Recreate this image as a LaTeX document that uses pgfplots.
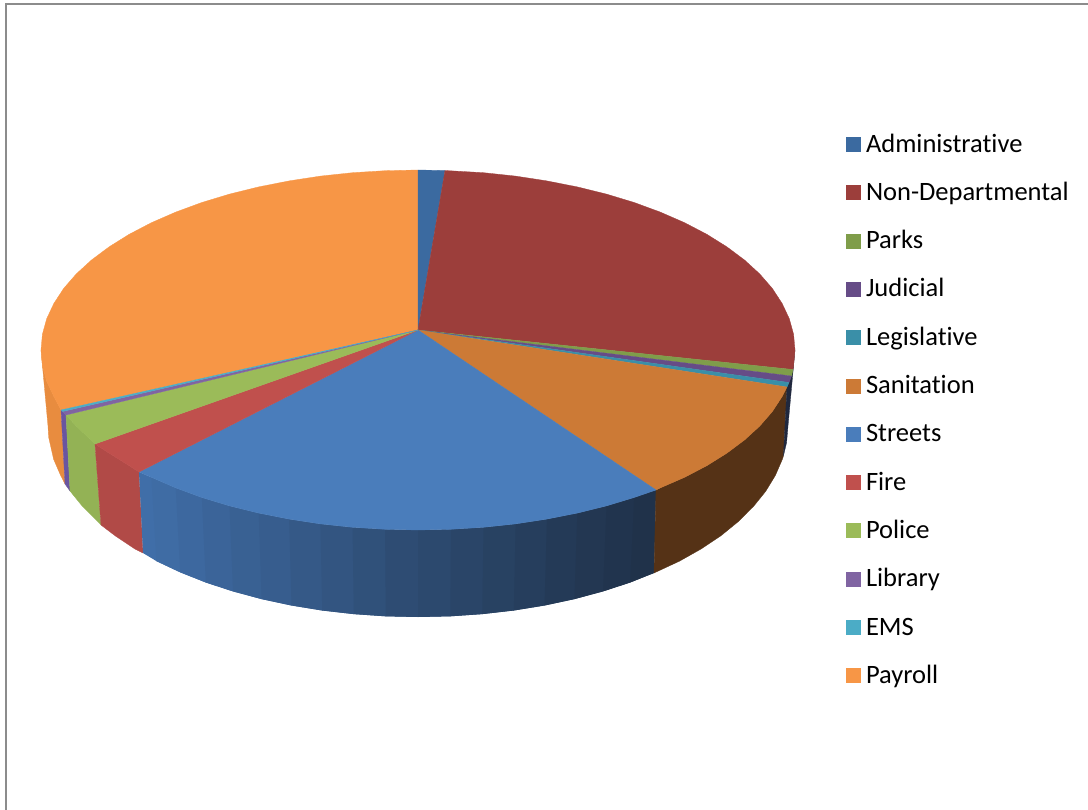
\documentclass[border=0pt]{standalone}
\usepackage{pgfplots}
\pgfplotsset{compat=1.18}
\usepackage{fontspec}
\setmainfont[Ligatures=NoCommon]{Carlito}

\definecolor{admin}{HTML}{3B6AA0}
\definecolor{nondep}{HTML}{9C3E3B}
\definecolor{parks}{HTML}{7F9D4A}
\definecolor{judicial}{HTML}{664C87}
\definecolor{legis}{HTML}{3A8FA8}
\definecolor{sanit}{HTML}{CC7A36}
\definecolor{streets}{HTML}{4A7DBB}
\definecolor{fire}{HTML}{C0504D}
\definecolor{police}{HTML}{9BBB59}
\definecolor{library}{HTML}{8064A2}
\definecolor{ems}{HTML}{4BACC6}
\definecolor{payroll}{HTML}{F79646}
\definecolor{stL}{RGB}{64,110,168}
\definecolor{stR}{RGB}{32,50,74}
\definecolor{payrollside}{RGB}{232,140,63}
\definecolor{libside}{RGB}{105,85,160}
\definecolor{sanitside}{RGB}{85,50,22}
\definecolor{darkside}{RGB}{32,40,62}

\pgfplotsset{
  face/.style={fill=#1,draw=#1,line width=0.3pt,forget plot},
  band/.style={fill=#1,draw=none,forget plot},
  key/.style={legend image code/.code={\fill[##1,draw=none] (0pt,0pt) rectangle (15pt,15pt);}},
}

\begin{document}
\begin{tikzpicture}
\path[use as bounding box] (0,0) rectangle (1088pt,810pt);
\begin{axis}[
    scale only axis,
    width=1088pt, height=810pt,
    xmin=0, xmax=1088,
    ymin=0, ymax=810,
    y dir=reverse,
    hide axis,
    clip=false,
    key,
    legend style={
      at={(axis cs:846,133)}, anchor=north west,
      draw=none, fill=none, inner sep=0pt, outer sep=0pt,
      font=\fontsize{26.5}{26.5}\selectfont,
      row sep=25.8pt, column sep=3pt,
      cells={anchor=base west, text height=17pt, text depth=6pt, inner sep=0pt},
    },
]
% outer frame
\addplot[color=black!45, line width=2pt, forget plot] coordinates {(5.5,810)(5.5,4.5)(1088,4.5)};

% side walls
\addplot[face=payrollside] coordinates {
  (41,350)(42.4,365.7)(46.7,381.3)(53.9,396.6)(61,410)(65,484)(60.6,475.4)(53.6,459.2)(48.6,437)(48,426)} -- cycle;
\addplot[face=libside] coordinates {(61,410)(66,415)(70,491)(65,484)} -- cycle;
\addplot[face=police!95!black] coordinates {
  (66,415)(76.3,426.1)(95,444)(101,525)(82.7,506.7)(70,491)} -- cycle;
\addplot[face=fire!92!black] coordinates {
  (95,444)(109.2,453.2)(129.2,465.7)(139,472)(143,553)(134.6,548.8)(114.9,535.6)(101,525)} -- cycle;
% streets wall, in bands from light to dark; each band runs on under the next
\addplot[band=stL!100!stR] coordinates {(139,472)(151.4,477.3)(175.7,487.9)(180.2,572.3)(156.4,561.1)(143,553)} -- cycle;
\addplot[band=stL!96!stR] coordinates {(151.4,477.3)(175.7,487.9)(201.8,497.5)(205.8,582.5)(180.2,572.3)(156.4,561.1)} -- cycle;
\addplot[band=stL!90!stR] coordinates {(175.7,487.9)(201.8,497.5)(229.5,505.9)(233,591.4)(205.8,582.5)(180.2,572.3)} -- cycle;
\addplot[band=stL!84!stR] coordinates {(201.8,497.5)(229.5,505.9)(258.7,513.1)(261.6,599.1)(233,591.4)(205.8,582.5)} -- cycle;
\addplot[band=stL!78!stR] coordinates {(229.5,505.9)(258.7,513.1)(289.1,519.1)(291.5,605.5)(261.6,599.1)(233,591.4)} -- cycle;
\addplot[band=stL!72!stR] coordinates {(258.7,513.1)(289.1,519.1)(320.4,523.9)(322.2,610.5)(291.5,605.5)(261.6,599.1)} -- cycle;
\addplot[band=stL!65!stR] coordinates {(289.1,519.1)(320.4,523.9)(352.5,527.3)(353.8,614.1)(322.2,610.5)(291.5,605.5)} -- cycle;
\addplot[band=stL!58!stR] coordinates {(320.4,523.9)(352.5,527.3)(385.1,529.3)(385.7,616.3)(353.8,614.1)(322.2,610.5)} -- cycle;
\addplot[band=stL!51!stR] coordinates {(352.5,527.3)(385.1,529.3)(418,530)(418,617)(385.7,616.3)(353.8,614.1)} -- cycle;
\addplot[band=stL!44!stR] coordinates {(385.1,529.3)(418,530)(450.9,529.3)(450.3,616.3)(418,617)(385.7,616.3)} -- cycle;
\addplot[band=stL!38!stR] coordinates {(418,530)(450.9,529.3)(483.5,527.3)(482.2,614.1)(450.3,616.3)(418,617)} -- cycle;
\addplot[band=stL!32!stR] coordinates {(450.9,529.3)(483.5,527.3)(515.6,523.9)(513.8,610.5)(482.2,614.1)(450.3,616.3)} -- cycle;
\addplot[band=stL!26!stR] coordinates {(483.5,527.3)(515.6,523.9)(546.9,519.1)(544.5,605.5)(513.8,610.5)(482.2,614.1)} -- cycle;
\addplot[band=stL!20!stR] coordinates {(515.6,523.9)(546.9,519.1)(577.3,513.1)(574.4,599.1)(544.5,605.5)(513.8,610.5)} -- cycle;
\addplot[band=stL!14!stR] coordinates {(546.9,519.1)(577.3,513.1)(606.5,505.9)(603,591.4)(574.4,599.1)(544.5,605.5)} -- cycle;
\addplot[band=stL!8!stR] coordinates {(577.3,513.1)(606.5,505.9)(634.2,497.5)(630.2,582.5)(603,591.4)(574.4,599.1)} -- cycle;
\addplot[band=stL!4!stR] coordinates {(606.5,505.9)(634.2,497.5)(656,490)(654,573)(630.2,582.5)(603,591.4)} -- cycle;
\addplot[band=stR] coordinates {(634.2,497.5)(656,490)(654,573)(630.2,582.5)} -- cycle;
% sanitation wall
\addplot[face=sanitside] coordinates {
  (787,387)(782.1,396.6)(772.3,411.6)(759.7,426.1)(744.5,440)(726.8,453.2)(706.8,465.7)(684.6,477.3)(660.3,487.9)(656,490)
  (654,573)(679.6,561.1)(701.4,548.8)(721.1,535.6)(738.4,521.5)(753.3,506.7)(765.7,491.3)(775.4,475.4)(782.4,459.2)(783.4,456)} -- cycle;
% dark sliver at the right
\addplot[face=darkside] coordinates {
  (787,387)(789,382.5)(791.5,376)(793,369.5)(795,350)(788,426)(786.6,442.6)(783.4,456)} -- cycle;

% top faces
\addplot[face=payroll] coordinates {
  (418,330)(61,410)(53.9,396.6)(46.7,381.3)(42.4,365.7)(41,350)(42.4,334.3)(46.7,318.7)(53.9,303.4)(63.7,288.4)(76.3,273.9)(91.5,260)
  (109.2,246.8)(129.2,234.3)(151.4,222.7)(175.7,212.1)(201.8,202.5)(229.5,194.1)(258.7,186.9)(289.1,180.9)(320.4,176.1)(352.5,172.7)(385.1,170.7)(418,170)} -- cycle;
\addplot[face=admin] coordinates {(418,330)(418,170)(445,170.5)} -- cycle;
\addplot[face=nondep] coordinates {
  (418,330)(445,170.5)(483.5,172.7)(515.6,176.1)(546.9,180.9)(577.3,186.9)(606.5,194.1)(634.2,202.5)(660.3,212.1)(684.6,222.7)(706.8,234.3)
  (726.8,246.8)(744.5,260)(759.7,273.9)(772.3,288.4)(782.1,303.4)(789.3,318.7)(793.6,334.3)(795,350)(793.6,365.7)(793,369.5)} -- cycle;
\addplot[face=parks] coordinates {(418,330)(793,369.5)(791.5,376)} -- cycle;
\addplot[face=judicial] coordinates {(418,330)(791.5,376)(789,382.5)} -- cycle;
\addplot[face=legis] coordinates {(418,330)(789,382.5)(787,387)} -- cycle;
\addplot[face=sanit] coordinates {
  (418,330)(787,387)(782.1,396.6)(772.3,411.6)(759.7,426.1)(744.5,440)(726.8,453.2)(706.8,465.7)(684.6,477.3)(660.3,487.9)(656,490)} -- cycle;
\addplot[face=streets] coordinates {
  (418,330)(656,490)(634.2,497.5)(606.5,505.9)(577.3,513.1)(546.9,519.1)(515.6,523.9)(483.5,527.3)(450.9,529.3)(418,530)(385.1,529.3)
  (352.5,527.3)(320.4,523.9)(289.1,519.1)(258.7,513.1)(229.5,505.9)(201.8,497.5)(175.7,487.9)(151.4,477.3)(139,472)} -- cycle;
\addplot[face=fire] coordinates {(418,330)(139,472)(129.2,465.7)(109.2,453.2)(95,444)} -- cycle;
\addplot[face=police] coordinates {(418,330)(95,444)(76.3,426.1)(66,415)} -- cycle;
\addplot[face=library] coordinates {(418,330)(66,415)(62.5,411.5)} -- cycle;
\addplot[face=ems] coordinates {(418,330)(62.5,411.5)(61,410)} -- cycle;

\addlegendimage{fill=admin}\addlegendentry{Administrative}
\addlegendimage{fill=nondep}\addlegendentry{Non-Departmental}
\addlegendimage{fill=parks}\addlegendentry{Parks}
\addlegendimage{fill=judicial}\addlegendentry{Judicial}
\addlegendimage{fill=legis}\addlegendentry{Legislative}
\addlegendimage{fill=sanit}\addlegendentry{Sanitation}
\addlegendimage{fill=streets}\addlegendentry{Streets}
\addlegendimage{fill=fire}\addlegendentry{Fire}
\addlegendimage{fill=police}\addlegendentry{Police}
\addlegendimage{fill=library}\addlegendentry{Library}
\addlegendimage{fill=ems}\addlegendentry{EMS}
\addlegendimage{fill=payroll}\addlegendentry{Payroll}
\end{axis}
\end{tikzpicture}
\end{document}
